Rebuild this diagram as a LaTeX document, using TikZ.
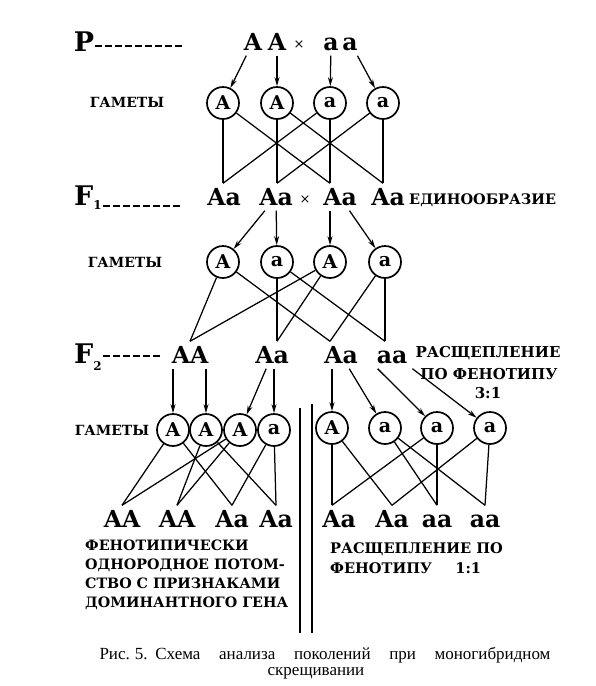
\documentclass[tikz,border=0pt]{standalone}
\usepackage{fontspec}
\setmainfont{DejaVu Serif}
\newfontfamily\capfont{Liberation Serif}
\usetikzlibrary{arrows.meta,positioning,calc}

\begin{document}
\begin{tikzpicture}[
    x=1pt, y=-1pt,
    gen/.style={inner sep=5pt, text height=17pt, text depth=0pt, font=\bfseries\fontsize{23.5}{26}\selectfont},
    gam/.style={circle, draw, line width=1.7pt, minimum size=32pt, inner sep=0pt, font=\bfseries\fontsize{19}{20}\selectfont},
    lbl/.style={font=\bfseries\fontsize{14}{16}\selectfont},
    gen label/.style={inner sep=1pt, font=\bfseries\fontsize{27}{30}\selectfont},
    note/.style={inner sep=0pt, font=\bfseries\fontsize{15}{20}\selectfont, align=left},
    crs/.style={font=\fontsize{13}{13}\selectfont},
    caption/.style={inner sep=0pt, font=\capfont\fontsize{17}{18}\selectfont},
    link/.style={line width=1.25pt},
    arr/.style={line width=1.25pt, ->},
    dashline/.style={line width=1.2pt, dash pattern=on 7pt off 3pt},
    >={Stealth[length=9pt,width=5pt]}
]
\useasboundingbox (0,0) rectangle (596,686);

% parents
\node[gen label] (p) at (84,42) {P};
\coordinate (pend) at (182,46);
\draw[dashline] (p.east |- pend) -- (pend);
\node[gen] (pA1) at (253,42) {A};
\node[gen] (pA2) at (277,42) {A};
\node[crs] (px) at (299,45) {×};
\node[gen] (pa1) at (331,42) {a};
\node[gen] (pa2) at (350,42) {a};

% gametes of P
\node[lbl] (gamP) at (127,102) {ГАМЕТЫ};
\node[gam] (g11) at (223,103) {A};
\node[gam] (g12) at (277,103) {A};
\node[gam] (g13) at (330,103) {a};
\node[gam] (g14) at (383,103) {a};
\draw[arr] (pA1) -- (g11);
\draw[arr] (pA2) -- (g12);
\draw[arr] (pa1) -- (g13);
\draw[arr] (pa2) -- (g14);

% F1
\node[gen label] (f1) at (88,198) {F\raisebox{-4pt}{\fontsize{12}{12}\selectfont 1}};
\coordinate (f1end) at (180,206);
\draw[dashline] (f1.east |- f1end) -- (f1end);
\node[gen] (f11) at (224,197) {Aa};
\node[gen] (f12) at (276,197) {Aa};
\node[crs] (f1x) at (305,200) {×};
\node[gen] (f13) at (340,197) {Aa};
\node[gen] (f14) at (388,197) {Aa};
\node[note, anchor=west, font=\bfseries\fontsize{14.5}{20}\selectfont] (uni) at (409,200) {ЕДИНООБРАЗИЕ};
\draw[link] (g11) -- (g11 |- f11.north);
\draw[link] (g13) -- (g11 |- f11.north);
\draw[link] (g12) -- (g12 |- f12.north);
\draw[link] (g14) -- (g12 |- f12.north);
\draw[link] (g13) -- (g13 |- f13.north);
\draw[link] (g11) -- (g13 |- f13.north);
\draw[link] (g14) -- (g14 |- f14.north);
\draw[link] (g12) -- (g14 |- f14.north);

% gametes of F1
\node[lbl] (gamF1) at (125,262) {ГАМЕТЫ};
\node[gam] (g21) at (223,262) {A};
\node[gam] (g22) at (277,262) {a};
\node[gam] (g23) at (330,262) {A};
\node[gam] (g24) at (385,262) {a};
\draw[arr] (f12) -- (g21);
\draw[arr] (f12) -- (g22);
\draw[arr] (f13.south -| g23) -- (g23);
\draw[arr] (f13) -- (g24);

% F2
\node[gen label] (f2) at (88,357) {F\raisebox{-7pt}{\fontsize{12}{12}\selectfont 2}};
\coordinate (f2end) at (160,356);
\draw[dashline] (f2.east |- f2end) -- (f2end);
\node[gen] (f21) at (190,355) {AA};
\node[gen] (f22) at (272,355) {Aa};
\node[gen] (f23) at (341,355) {Aa};
\node[gen] (f24) at (392,355) {aa};
\node[note] (split31a) at (488,353) {РАСЩЕПЛЕНИЕ};
\node[note] (split31b) at (489,374) {ПО ФЕНОТИПУ};
\node[note] (split31c) at (488,393) {3:1};
\draw[link] (g21) -- (f21.north);
\draw[link] (g23) -- (f21.north);
\draw[link] (g22) -- (g22 |- f22.north);
\draw[link] (g23) -- (g22 |- f22.north);
\draw[link] (g21) -- (g23 |- f23.north);
\draw[link] (g24) -- (g23 |- f23.north);
\draw[link] (g24) -- (g24 |- f24.north);
\draw[link] (g22) -- (g24 |- f24.north);

% gametes of F2
\node[lbl] (gamF2) at (112,430) {ГАМЕТЫ};
\node[gam] (g31) at (173,430) {A};
\node[gam] (g32) at (206,430) {A};
\node[gam] (g33) at (240,430) {A};
\node[gam] (g34) at (274,430) {a};
\node[gam] (g35) at (332,428) {A};
\node[gam] (g36) at (385,428) {a};
\node[gam] (g37) at (437,428) {a};
\node[gam] (g38) at (490,428) {a};
\draw[arr] (f21.south -| g31) -- (g31);
\draw[arr] (f21.south -| g32) -- (g32);
\draw[arr] (f22) -- (g33);
\draw[arr] (f22.south -| g34) -- (g34);
\draw[arr] (f23.south -| g35) -- (g35);
\draw[arr] (f23) -- (g36);
\draw[arr] ([xshift=6pt]f24.south west) -- (g37);
\draw[arr] (f24.south east) -- (g38);

% dividers
\draw[link] (300,408) -- (300,633);
\draw[link] (312,404) -- (312,633);

% offspring
\node[gen] (o1) at (122,519) {AA};
\node[gen] (o2) at (177,519) {AA};
\node[gen] (o3) at (232,519) {Aa};
\node[gen] (o4) at (276,519) {Aa};
\node[gen] (o5) at (339,519) {Aa};
\node[gen] (o6) at (392,519) {Aa};
\node[gen] (o7) at (437,519) {aa};
\node[gen] (o8) at (485,519) {aa};
\draw[link] (g31) -- (o1.north);
\draw[link] (g31) -- (o3.north);
\draw[link] (g32) -- (o2.north);
\draw[link] (g32) -- (o4.north);
\draw[link] (g33) -- (o1.north);
\draw[link] (g33) -- (o2.north);
\draw[link] (g34) -- (o3.north);
\draw[link] (g34) -- (o4.north);
\draw[link] (g35) -- (g35 |- o5.north);
\draw[link] (g35) -- (o6.north);
\draw[link] (g36) -- (g37 |- o7.north);
\draw[link] (g36) -- (o8.north);
\draw[link] (g37) -- (g35 |- o5.north);
\draw[link] (g37) -- (g37 |- o7.north);
\draw[link] (g38) -- (o6.north);
\draw[link] (g38) -- (o8.north);

% notes under the offspring
\node[note, anchor=north west, font=\bfseries\fontsize{14.3}{19}\selectfont] (homo) at (85,540) {ФЕНОТИПИЧЕСКИ\\ОДНОРОДНОЕ ПОТОМ-\\СТВО С ПРИЗНАКАМИ\\ДОМИНАНТНОГО ГЕНА};
\node[note, anchor=north west, font=\bfseries\fontsize{14.6}{20}\selectfont] (split11) at (330,542) {РАСЩЕПЛЕНИЕ ПО\\ФЕНОТИПУ\hspace{1.6em}1:1};

% caption
\node[caption] (cap1) at (325,655) {\makebox[451pt][s]{Рис.\hspace{0.3em}5.\hspace{0.45em}Схема анализа поколений при моногибридном}};
\node[caption] (cap2) at (316,673) {скрещивании};
\end{tikzpicture}
\end{document}
